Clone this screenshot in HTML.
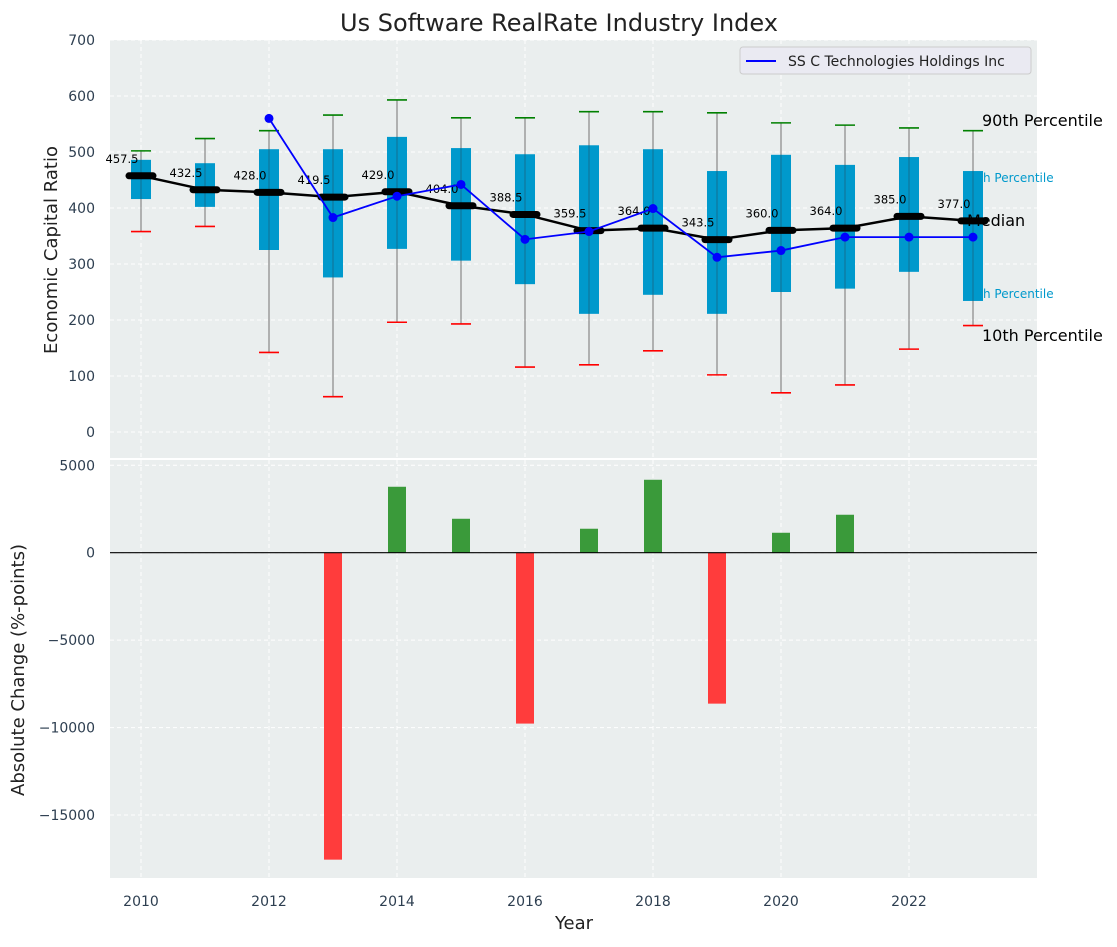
<!DOCTYPE html>
<html><head><meta charset="utf-8"><style>
body{margin:0;background:#fff;font-family:"Liberation Sans","DejaVu Sans",sans-serif}
svg text{font-family:"DejaVu Sans","Liberation Sans",sans-serif}
</style></head><body>
<svg id="chart" width="1117" height="942" xmlns="http://www.w3.org/2000/svg">
<rect x="0" y="0" width="1117" height="942" fill="#fff"/>
<text x="559" y="31" text-anchor="middle" font-size="24" fill="#222">Us Software RealRate Industry Index</text>
<rect x="110" y="40" width="927" height="418" fill="#eaeeee"/>
<rect x="110" y="460" width="927" height="418" fill="#eaeeee"/>
<g id="grid"></g><g id="marks"></g><g id="axes"></g>
<text transform="translate(57,250) rotate(-90)" text-anchor="middle" font-size="18" fill="#222">Economic Capital Ratio</text>
<text transform="translate(24,670) rotate(-90)" text-anchor="middle" font-size="18" fill="#222">Absolute Change (%-points)</text>
<text x="574" y="929" text-anchor="middle" font-size="18" fill="#222">Year</text>
<g>
<rect x="740" y="47" width="291" height="27" rx="3" fill="#eaeaf2" stroke="#ccc"/>
<line x1="746" y1="61" x2="776" y2="61" stroke="#0000ff" stroke-width="2"/>
<text x="788" y="66" font-size="14" fill="#222">SS C Technologies Holdings Inc</text>
</g>
</svg>
<script>
const years=[2010,2011,2012,2013,2014,2015,2016,2017,2018,2019,2020,2021,2022,2023];
const p90=[502,524,538,566,593,561,561,572,572,570,552,548,543,538];
const p75=[486,480,505,505,527,507,496,512,505,466,495,477,491,466];
const medians=[457.5,432.5,428.0,419.5,429.0,404.0,388.5,359.5,364.0,343.5,360.0,364.0,385.0,377.0];
const p25=[416,402,325,276,327,306,264,211,245,211,250,256,286,234];
const p10=[358,367,142,63,196,193,116,120,145,102,70,84,148,190];
const companyYears=[2012,2013,2014,2015,2016,2017,2018,2019,2020,2021,2022,2023];
const companyValues=[560,383,421,442,344,358,399,312,324,348,348,348];
const changes=[0,0,0,-17550,3770,1940,-9770,1370,4170,-8630,1140,2170,0,0];
const topTicks=[0,100,200,300,400,500,600,700];
const bottomTicks=[5000,0,-5000,-10000,-15000];
const xTicks=[2010,2012,2014,2016,2018,2020,2022];

const NS='http://www.w3.org/2000/svg';
const X=y=>141+(y-2010)*64;
const YT=v=>432-0.56*v;
const YB=v=>552.7-v*0.01749;
function el(tag,attrs,parent,text){const e=document.createElementNS(NS,tag);for(const k in attrs)e.setAttribute(k,attrs[k]);if(text!==undefined)e.textContent=text;document.getElementById(parent).appendChild(e);return e;}

topTicks.forEach(t=>{
  let g=el('line',{x1:110,x2:1037,y1:YT(t),y2:YT(t),stroke:'#fff','stroke-dasharray':'4,3','stroke-width':1},'grid');
  
  
  let l=el('text',{x:95,y:YT(t)+5,'text-anchor':'end','font-size':14,fill:'#2d3e50'},'axes',String(t));
  
  
});
bottomTicks.forEach(t=>{
  let g=el('line',{x1:110,x2:1037,y1:YB(t),y2:YB(t),stroke:'#fff','stroke-dasharray':'4,3','stroke-width':1},'grid');
  
  
  let l=el('text',{x:95,y:YB(t)+5,'text-anchor':'end','font-size':14,fill:'#2d3e50'},'axes',String(t).replace('-','\u2212'));
  
  
});
xTicks.forEach(t=>{
  [[40,458],[460,878]].forEach(r=>{
    let g=el('line',{x1:X(t),x2:X(t),y1:r[0],y2:r[1],stroke:'#fff','stroke-dasharray':'4,3','stroke-width':1},'grid');
    
    
  });
  let l=el('text',{x:X(t),y:906,'text-anchor':'middle','font-size':14,fill:'#2d3e50'},'axes',String(t));
  
  
});

[['75th Percentile',182],['25th Percentile',298]].forEach(a=>{
  let t=el('text',{x:963,y:a[1],'font-size':12,fill:'#0099cc'},'marks',a[0]);
  
  
});

years.forEach((yr,i)=>{
  const x=X(yr);
  let w=el('line',{x1:x,x2:x,y1:YT(p90[i]),y2:YT(p10[i]),stroke:'#888','stroke-width':1.2},'marks');
  
  
  let b=el('rect',{x:x-10,y:YT(p75[i]),width:20,height:YT(p25[i])-YT(p75[i]),fill:'#0099cc'},'marks');
  
  
  let w2=el('line',{x1:x,x2:x,y1:YT(p75[i]),y2:YT(p25[i]),stroke:'#1a5f7a','stroke-width':1,opacity:0.7},'marks');
  
  
  let c1=el('line',{x1:x-10,x2:x+10,y1:YT(p90[i]),y2:YT(p90[i]),stroke:'green','stroke-width':1.6},'marks');
  
  
  let c2=el('line',{x1:x-10,x2:x+10,y1:YT(p10[i]),y2:YT(p10[i]),stroke:'red','stroke-width':1.6},'marks');
  
  
});
let mp=el('polyline',{points:years.map((y,i)=>X(y)+','+YT(medians[i])).join(' '),fill:'none',stroke:'#000','stroke-width':2.5},'marks');


years.forEach((yr,i)=>{
  let m=el('line',{x1:X(yr)-12,x2:X(yr)+12,y1:YT(medians[i]),y2:YT(medians[i]),stroke:'#000','stroke-width':7,'stroke-linecap':'round'},'marks');
  
  
  let t=el('text',{x:X(yr)-19,y:YT(medians[i])-13,'text-anchor':'middle','font-size':11.5,fill:'#000'},'marks',medians[i].toFixed(1));
  
  
});
let cl=el('polyline',{points:companyYears.map((y,i)=>X(y)+','+YT(companyValues[i])).join(' '),fill:'none',stroke:'#0000ff','stroke-width':1.8},'marks');


companyYears.forEach((yr,i)=>{
  let d=el('circle',{cx:X(yr),cy:YT(companyValues[i]),r:4.5,fill:'#0000ff'},'marks');
  
  
});
[['90th Percentile',982,126],['Median',967,226],['10th Percentile',982,341]].forEach(a=>{
  let t=el('text',{x:a[1],y:a[2],'font-size':16,fill:'#000'},'marks',a[0]);
  
  
});

years.forEach((yr,i)=>{
  if(changes[i]===0)return;
  const v=changes[i];
  const y0=YB(Math.max(v,0)), y1=YB(Math.min(v,0));
  let b=el('rect',{x:X(yr)-9,y:y0,width:18,height:y1-y0,fill:v>0?'#3a9a3a':'#ff3c3c'},'marks');
  
  
});
let z=el('line',{x1:110,x2:1037,y1:YB(0),y2:YB(0),stroke:'#000','stroke-width':1.2},'marks');


</script>
</body></html>
